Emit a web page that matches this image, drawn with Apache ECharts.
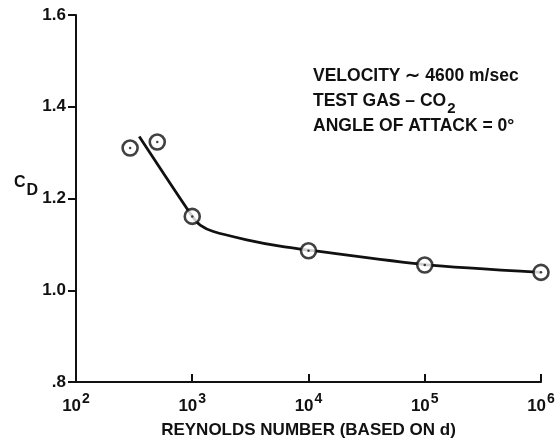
<!DOCTYPE html>
<html>
<head>
<meta charset="utf-8">
<script src="https://cdn.jsdelivr.net/npm/echarts@6/dist/echarts.min.js"></script>
<style>
  html, body { margin: 0; padding: 0; background: #fff; }
  #chart { width: 558px; height: 444px; }
</style>
</head>
<body>
<div id="chart"></div>
<script>
// Measured drag coefficient vs Reynolds number
const reynoldsMeasured = [292, 500, 1000, 10000, 100000, 1000000];
const cdMeasured = [1.31, 1.323, 1.161, 1.086, 1.055, 1.039];

// Faired curve through the data
const reynoldsFit = [350, 1000, 1170, 1520, 2940, 5690, 10000, 100000, 1000000];
const cdFit = [1.335, 1.161, 1.142, 1.128, 1.110, 1.096, 1.0875, 1.056, 1.039];

// Axis tick labels
const yTickLabels = { '0.8': '.8', '1': '1.0', '1.2': '1.2', '1.4': '1.4', '1.6': '1.6' };
const xExponents = [2, 3, 4, 5, 6];

const FONT = '"Liberation Sans", Arial, sans-serif';
const INK = '#111';

const measured = reynoldsMeasured.map((r, i) => [r, cdMeasured[i]]);
const fit = reynoldsFit.map((r, i) => [r, cdFit[i]]);

const chart = echarts.init(document.getElementById('chart'), null, { renderer: 'canvas' });

chart.setOption({
  animation: false,
  backgroundColor: '#fff',
  grid: { left: 76, right: 17, top: 15, bottom: 57, containLabel: false },
  xAxis: {
    type: 'log',
    logBase: 10,
    min: 100,
    max: 1000000,
    name: 'REYNOLDS NUMBER (BASED ON d)',
    nameLocation: 'middle',
    nameGap: 40,
    nameTextStyle: { fontFamily: FONT, fontWeight: 'bold', fontSize: 17, color: INK },
    axisLine: { lineStyle: { color: INK, width: 2 } },
    axisTick: { inside: true, length: 8, lineStyle: { color: INK, width: 2 } },
    splitLine: { show: false },
    minorTick: { show: false },
    axisLabel: {
      margin: 10,
      fontFamily: FONT,
      color: INK,
      formatter: function (v) {
        const e = Math.round(Math.log10(v));
        if (xExponents.indexOf(e) < 0) return '';
        return '{b|10}{s|' + e + '}';
      },
      rich: {
        b: { fontFamily: FONT, fontWeight: 'bold', fontSize: 17, color: INK, verticalAlign: 'bottom' },
        s: { fontFamily: FONT, fontWeight: 'bold', fontSize: 14, color: INK, padding: [0, 0, 9, 1] }
      }
    }
  },
  yAxis: {
    type: 'value',
    min: 0.8,
    max: 1.6,
    interval: 0.2,
    axisLine: { show: true, lineStyle: { color: INK, width: 2 } },
    axisTick: { show: true, length: 8, lineStyle: { color: INK, width: 2 } },
    splitLine: { show: false },
    axisLabel: {
      margin: 10,
      fontFamily: FONT,
      fontWeight: 'bold',
      fontSize: 17,
      color: INK,
      formatter: function (v) {
        const key = String(Math.round(v * 10) / 10);
        return yTickLabels[key] !== undefined ? yTickLabels[key] : '';
      }
    }
  },
  series: [
    {
      name: 'curve',
      type: 'line',
      data: fit,
      smooth: 0.25,
      showSymbol: false,
      symbol: 'none',
      lineStyle: { color: INK, width: 2.8 },
      z: 2
    },
    {
      name: 'measured',
      type: 'scatter',
      data: measured,
      symbol: 'circle',
      symbolSize: 15,
      itemStyle: { color: '#fff', borderColor: INK, borderWidth: 2.6 },
      z: 3
    },
    {
      name: 'measured-center',
      type: 'scatter',
      data: measured,
      symbol: 'circle',
      symbolSize: 2.5,
      itemStyle: { color: INK },
      z: 4
    }
  ],
  graphic: [
    {
      type: 'text',
      left: 313, top: 67,
      style: {
        text: 'VELOCITY ∼ 4600 m/sec',
        font: 'bold 17.5px ' + FONT,
        fill: INK
      }
    },
    {
      type: 'text',
      left: 313, top: 92,
      style: {
        text: '{a|TEST GAS – CO}{s|2}',
        rich: {
          a: { font: 'bold 17.5px ' + FONT, fill: INK, verticalAlign: 'top' },
          s: { font: 'bold 15px ' + FONT, fill: INK, padding: [9, 0, 0, 1] }
        }
      }
    },
    {
      type: 'text',
      left: 313, top: 117,
      style: {
        text: 'ANGLE OF ATTACK = 0°',
        font: 'bold 17.5px ' + FONT,
        fill: INK
      }
    },
    {
      type: 'text',
      left: 14, top: 175,
      style: {
        text: '{c|C}{d|D}',
        rich: {
          c: { font: 'bold 16px ' + FONT, fill: INK, verticalAlign: 'top' },
          d: { font: 'bold 16px ' + FONT, fill: INK, padding: [8, 0, 0, 1] }
        }
      }
    }
  ]
});
</script>
</body>
</html>
